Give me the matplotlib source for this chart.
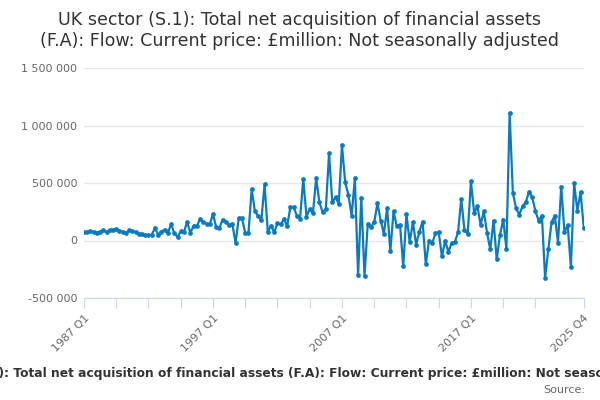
import matplotlib

matplotlib.use('Agg')
import matplotlib.pyplot as plt

# quarterly values, £million, 1987 Q1 .. 2025 Q4
values = [
    72000, 75000, 80000, 75000, 68000, 78000, 90000, 72000, 95000, 92000,
    98000, 82000, 78000, 62000, 90000, 80000, 72000, 58000, 58000, 45000,
    48000, 50000, 107000, 50000, 78000, 95000, 62000, 145000, 62000, 30000,
    80000, 78000, 159000, 65000, 130000, 125000, 188000, 160000, 145000, 140000,
    231000, 115000, 110000, 182000, 160000, 135000, 145000, -23000, 196000, 196000,
    63000, 63000, 448000, 253000, 215000, 175000, 490000, 72000, 130000, 72000,
    150000, 140000, 188000, 125000, 289000, 289000, 217000, 188000, 535000, 208000,
    275000, 237000, 543000, 332000, 246000, 275000, 757000, 332000, 376000, 318000,
    829000, 506000, 396000, 217000, 543000, -303000, 370000, -309000, 145000, 116000,
    159000, 324000, 173000, 58000, 283000, -92000, 254000, 124000, 139000, -225000,
    231000, -14000, 159000, -35000, 78000, 165000, -208000, 0, -23000, 64000,
    72000, -139000, 0, -101000, -23000, -14000, 72000, 361000, 87000, 58000,
    514000, 237000, 298000, 136000, 254000, 64000, -78000, 173000, -165000, 49000,
    182000, -72000, 1110000, 413000, 280000, 225000, 298000, 332000, 425000, 376000,
    254000, 173000, 217000, -324000, -78000, 159000, 217000, -20000, 468000, 72000,
    136000, -231000, 500000, 260000, 419000, 107000,
]
quarters = list(range(len(values)))

tick_pos = list(range(0, 141, 10)) + [155]
label_map = {0: '1987 Q1', 40: '1997 Q1', 80: '2007 Q1', 120: '2017 Q1', 155: '2025 Q4'}
y_ticks = [-500000, 0, 500000, 1000000, 1500000]

title = ('UK sector (S.1): Total net acquisition of financial assets\n'
         '(F.A): Flow: Current price: £million: Not seasonally adjusted')
footer = ('UK sector (S.1): Total net acquisition of financial assets (F.A): '
          'Flow: Current price: £million: Not seasonally adjusted')

fig = plt.figure(figsize=(6, 4), dpi=100)
ax = fig.add_axes([0.14, 0.255, 0.833, 0.575])

ax.plot(quarters, values, '-o', color='#0a7bc1', lw=1.6, ms=2.4)

ax.set_xlim(0, 155)
ax.set_ylim(-500000, 1500000)
ax.set_yticks(y_ticks)
ax.set_yticklabels([f'{v:,}'.replace(',', ' ') for v in y_ticks])
ax.yaxis.grid(True, color='#e6e6e6', lw=1)
ax.set_axisbelow(True)

ax.set_xticks(tick_pos)
ax.set_xticklabels([label_map.get(p, '') for p in tick_pos], rotation=45,
                   ha='right', rotation_mode='anchor')

for s in ['top', 'right', 'left']:
    ax.spines[s].set_visible(False)
ax.spines['bottom'].set_color('#ccd6eb')
ax.tick_params(axis='x', colors='#ccd6eb', length=7, labelcolor='#666666', labelsize=8)
ax.tick_params(axis='y', length=0, labelcolor='#666666', labelsize=8, pad=5)

fig.text(0.5, 0.972, title, ha='center', va='top', fontsize=12.6, color='#333333',
         linespacing=1.2)
fig.text(0.502, 0.065, footer, ha='center', va='center', fontsize=8.85,
         fontweight='bold', color='#333333')
fig.text(0.975, 0.025, 'Source:', ha='right', va='center', fontsize=8, color='#666666')

fig.savefig('out.png')
